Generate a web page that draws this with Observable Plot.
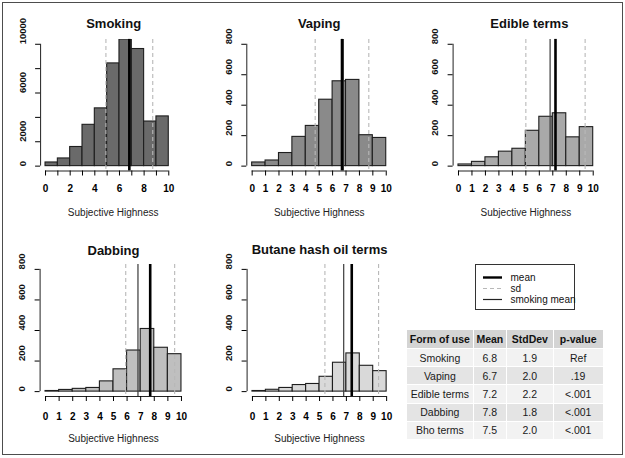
<!DOCTYPE html>
<html><head><meta charset="utf-8">
<script src="https://cdn.jsdelivr.net/npm/d3@7"></script>
<script src="https://cdn.jsdelivr.net/npm/@observablehq/plot@0.6"></script>
<style>
body{margin:0;background:#fff;}
#fig{position:relative;width:625px;height:458px;overflow:hidden;font-family:"Liberation Sans",Arial,sans-serif;color:#000;background:#fff;}
#fig svg{position:absolute;left:0;top:0;}
#fig g[aria-label="x-axis tick label"] text{font-weight:bold;}
#border{position:absolute;left:2px;top:2px;width:621px;height:453px;border:1.5px solid #4d4d4d;box-sizing:border-box;}
#legendbox{position:absolute;left:475px;top:264px;width:100px;height:46px;border:1px solid #333;box-sizing:border-box;}
#tbl{position:absolute;left:407px;top:330px;border-collapse:separate;border-spacing:0;font-size:10.5px;color:#1a1a1a;}
#tbl td,#tbl th{padding:0;text-align:center;border-right:1px solid #fff;border-bottom:1px solid #fff;box-sizing:border-box;}
#tbl th{background:#d4d4d4;font-weight:bold;height:19px;color:#111;}
#tbl td{height:18.2px;}
#tbl tr.odd td{background:#f2f2f2;}
#tbl tr.even td{background:#e4e4e4;}
</style></head><body>
<div id="fig"><div id="border"></div><div id="legendbox"></div></div>
<script>
// ---------- data ----------
const panelTitles = ["Smoking", "Vaping", "Edible terms", "Dabbing", "Butane hash oil terms"];
const binStarts = [0, 1, 2, 3, 4, 5, 6, 7, 8, 9];
const smokingCounts = [300, 630, 1570, 3390, 4740, 8430, 10400, 9610, 3660, 4080];
const vapingCounts = [24, 37, 86, 192, 264, 436, 557, 566, 203, 185];
const edibleCounts = [11, 28, 58, 95, 114, 232, 324, 347, 189, 256];
const dabbingCounts = [4, 11, 18, 24, 67, 146, 269, 410, 287, 245];
const bhoCounts = [4, 12, 24, 43, 50, 97, 189, 250, 169, 134];
const lineMeans = [6.8, 6.7, 7.2, 7.7, 7.4];
const lineSds = [1.9, 2.0, 2.2, 1.8, 2.0];
const smokingMean = 6.8;
const xTicks = [0, 1, 2, 3, 4, 5, 6, 7, 8, 9, 10];
const xLabelsSmoking = [0, 2, 4, 6, 8, 10];
const yTicksSmoking = [0, 2000, 4000, 6000, 8000, 10000];
const yLabelsSmoking = [0, 2000, 6000, 10000];
const yTicksOther = [0, 200, 400, 600, 800];
const xAxisLabel = "Subjective Highness";
const legendLabels = ["mean", "sd", "smoking mean"];
const tableHeader = ["Form of use", "Mean", "StdDev", "p-value"];
const tableForms = ["Smoking", "Vaping", "Edible terms", "Dabbing", "Bho terms"];
const tableMeans = ["6.8", "6.7", "7.2", "7.8", "7.5"];
const tableSds = ["1.9", "2.0", "2.2", "1.8", "2.0"];
const tablePs = ["Ref", ".19", "<.001", "<.001", "<.001"];

// ---------- layout & style ----------
const W = 625, H = 458;
const allCounts = [smokingCounts, vapingCounts, edibleCounts, dabbingCounts, bhoCounts];
const fills = ["#6a6a6a", "#8a8a8a", "#a9a9a9", "#bfbfbf", "#d9d9d9"];
const layout = [
  {left: 40.1, right: 173.2, top: 38.9, bottom: 170.5, titleDx: 6.5, labDx: 6, tickPad: 9},
  {left: 246.3, right: 391.1, top: 38.9, bottom: 170.5, titleDx: 0, labDx: 0, tickPad: 9},
  {left: 452.6, right: 598.1, top: 38.9, bottom: 170.5, titleDx: 3.5, labDx: 0, tickPad: 9},
  {left: 39.6, right: 186.4, top: 264, bottom: 396, titleDx: 0, labDx: 0, tickPad: 11},
  {left: 246.6, right: 391.5, top: 264, bottom: 396, titleDx: 0, labDx: 0, tickPad: 11}
];
const titleBaseline = [27.3, 27.3, 27.3, 254, 253.5];
const labBaseline = [215.5, 215.5, 215.5, 441, 441];
const xDomain = [-0.4, 10.4];
const fig = document.getElementById("fig");
const fontFamily = '"Liberation Sans", Arial, sans-serif';

panelTitles.forEach((title, i) => {
  const L = layout[i];
  const isSmoking = i === 0;
  const yTicks = isSmoking ? yTicksSmoking : yTicksOther;
  const yLabels = isSmoking ? yLabelsSmoking : yTicksOther;
  const xLabels = isSmoking ? xLabelsSmoking : xTicks;
  const ymax = yTicks[yTicks.length - 1];
  const yDomain = [-0.04 * ymax, 1.04 * ymax];
  const bins = binStarts.map((b, j) => ({x0: b, x1: b + 1, count: allCounts[i][j]}));
  const m = lineMeans[i], s = lineSds[i];
  const svg = Plot.plot({
    width: W, height: H,
    marginLeft: L.left, marginRight: W - L.right, marginTop: L.top, marginBottom: H - L.bottom,
    style: {background: "transparent", fontFamily, color: "#000", overflow: "visible"},
    x: {domain: xDomain, axis: null, label: null},
    y: {domain: yDomain, axis: null, label: null},
    marks: [
      Plot.rectY(bins, {x1: "x0", x2: "x1", y: "count", fill: fills[i], stroke: "#1e1e1e", strokeWidth: 1.1, clip: true}),
      Plot.ruleX([m - s, m + s], {stroke: "#b8b8b8", strokeWidth: 1.1, strokeDasharray: "4,3"}),
      isSmoking ? null : Plot.ruleX([smokingMean], {stroke: "#3a3a3a", strokeWidth: 1.2}),
      Plot.ruleX([m], {stroke: "#000", strokeWidth: 2.6}),
      Plot.ruleY([yDomain[0]], {x1: xTicks[0], x2: xTicks[xTicks.length - 1], stroke: "#222", strokeWidth: 1}),
      Plot.ruleX([xDomain[0]], {y1: yTicks[0], y2: ymax, stroke: "#222", strokeWidth: 1}),
      Plot.axisX(xTicks, {anchor: "bottom", tickSize: 5, tickPadding: L.tickPad, fontSize: 10, label: null,
        tickFormat: d => xLabels.includes(d) ? String(d) : ""}),
      Plot.axisY(yTicks, {anchor: "left", tickSize: 5, tickFormat: () => "", label: null}),
      Plot.text(yLabels, {y: d => d, frameAnchor: "left", dx: -15, rotate: -90, lineAnchor: "bottom",
        text: d => String(d), fontSize: 9.5, fontWeight: "bold", fill: "#111"}),
      Plot.text([title], {frameAnchor: "top", dx: L.titleDx, dy: titleBaseline[i] - L.top, lineAnchor: "bottom",
        fontSize: 13, fontWeight: "bold", fill: "#111"}),
      Plot.text([xAxisLabel], {frameAnchor: "bottom", dx: L.labDx, dy: labBaseline[i] - L.bottom, lineAnchor: "bottom",
        fontSize: 10, fill: "#222"})
    ]
  });
  fig.appendChild(svg);
});

// ---------- legend ----------
const legendStyles = [
  {stroke: "#000", width: 2.4, dash: null},
  {stroke: "#b8b8b8", width: 1.1, dash: "4,3"},
  {stroke: "#222", width: 1.2, dash: null}
];
const legend = Plot.plot({
  width: W, height: H,
  style: {background: "transparent", fontFamily, color: "#000", overflow: "visible"},
  x: {domain: [0, 1], range: [483, 502], axis: null},
  y: {type: "point", domain: legendLabels, range: [277, 299], padding: 0, axis: null},
  marks: [
    ...legendLabels.map((lab, k) => Plot.ruleY([lab], {x1: 0, x2: 1, stroke: legendStyles[k].stroke,
      strokeWidth: legendStyles[k].width, strokeDasharray: legendStyles[k].dash})),
    Plot.text(legendLabels, {y: d => d, x: 1, dx: 8, textAnchor: "start", fontSize: 10, fill: "#111"})
  ]
});
fig.appendChild(legend);

// ---------- table ----------
const tbl = document.createElement("table");
tbl.id = "tbl";
const colW = [66.7, 33.3, 46.7, 50];
const hr = document.createElement("tr");
tableHeader.forEach((h, c) => {
  const th = document.createElement("th");
  th.textContent = h; th.style.width = colW[c] + "px";
  hr.appendChild(th);
});
tbl.appendChild(hr);
tableForms.forEach((f, r) => {
  const tr = document.createElement("tr");
  tr.className = r % 2 === 0 ? "odd" : "even";
  [f, tableMeans[r], tableSds[r], tablePs[r]].forEach((v, c) => {
    const td = document.createElement("td");
    td.textContent = v; td.style.width = colW[c] + "px";
    tr.appendChild(td);
  });
  tbl.appendChild(tr);
});
fig.appendChild(tbl);
</script>
</body></html>
